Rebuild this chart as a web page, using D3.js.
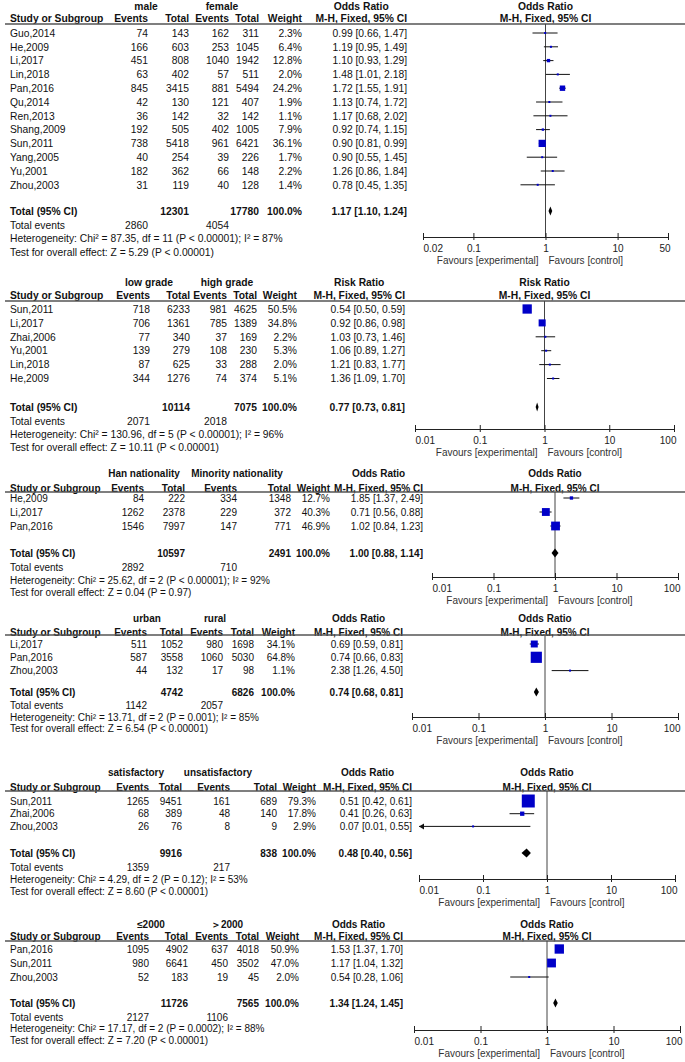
<!DOCTYPE html>
<html><head><meta charset="utf-8">
<script src="https://cdn.jsdelivr.net/npm/d3@7"></script>
<style>body{margin:0;background:#fff}</style>
</head><body>
<svg id="c" width="685" height="1062"></svg>
<script>
// ---------- Panel 1: male vs female ----------
const p1Studies = ["Guo,2014","He,2009","Li,2017","Lin,2018","Pan,2016","Qu,2014","Ren,2013","Shang,2009","Sun,2011","Yang,2005","Yu,2001","Zhou,2003"];
const p1E1 = [74,166,451,63,845,42,36,192,738,40,182,31];
const p1T1 = [143,603,808,402,3415,130,142,505,5418,254,362,119];
const p1E2 = [162,253,1040,57,881,121,32,402,961,39,66,40];
const p1T2 = [311,1045,1942,511,5494,407,142,1005,6421,226,148,128];
const p1W  = [2.3,6.4,12.8,2.0,24.2,1.9,1.1,7.9,36.1,1.7,2.2,1.4];
const p1Est = [0.99,1.19,1.10,1.48,1.72,1.13,1.17,0.92,0.90,0.90,1.26,0.78];
const p1Lo  = [0.66,0.95,0.93,1.01,1.55,0.74,0.68,0.74,0.81,0.55,0.86,0.45];
const p1Hi  = [1.47,1.49,1.29,2.18,1.91,1.72,2.02,1.15,0.99,1.45,1.84,1.35];
const p1Total = {t1:12301, t2:17780, e1:2860, e2:4054, est:1.17, lo:1.10, hi:1.24};
const p1Het = "Heterogeneity: Chi\u00b2 = 87.35, df = 11 (P < 0.00001); I\u00b2 = 87%";
const p1Test = "Test for overall effect: Z = 5.29 (P < 0.00001)";
const p1Ticks = [0.02,0.1,1,10,50];

// ---------- Panel 2: low grade vs high grade ----------
const p2Studies = ["Sun,2011","Li,2017","Zhai,2006","Yu,2001","Lin,2018","He,2009"];
const p2E1 = [718,706,77,139,87,344];
const p2T1 = [6233,1361,340,279,625,1276];
const p2E2 = [981,785,37,108,33,74];
const p2T2 = [4625,1389,169,230,288,374];
const p2W  = [50.5,34.8,2.2,5.3,2.0,5.1];
const p2Est = [0.54,0.92,1.03,1.06,1.21,1.36];
const p2Lo  = [0.50,0.86,0.73,0.89,0.83,1.09];
const p2Hi  = [0.59,0.98,1.46,1.27,1.77,1.70];
const p2Total = {t1:10114, t2:7075, e1:2071, e2:2018, est:0.77, lo:0.73, hi:0.81};
const p2Het = "Heterogeneity: Chi\u00b2 = 130.96, df = 5 (P < 0.00001); I\u00b2 = 96%";
const p2Test = "Test for overall effect: Z = 10.11 (P < 0.00001)";
const p2Ticks = [0.01,0.1,1,10,100];

// ---------- Panel 3: Han vs Minority nationality ----------
const p3Studies = ["He,2009","Li,2017","Pan,2016"];
const p3E1 = [84,1262,1546];
const p3T1 = [222,2378,7997];
const p3E2 = [334,229,147];
const p3T2 = [1348,372,771];
const p3W  = [12.7,40.3,46.9];
const p3Est = [1.85,0.71,1.02];
const p3Lo  = [1.37,0.56,0.84];
const p3Hi  = [2.49,0.88,1.23];
const p3Total = {t1:10597, t2:2491, e1:2892, e2:710, est:1.00, lo:0.88, hi:1.14};
const p3Het = "Heterogeneity: Chi\u00b2 = 25.62, df = 2 (P < 0.00001); I\u00b2 = 92%";
const p3Test = "Test for overall effect: Z = 0.04 (P = 0.97)";
const p3Ticks = [0.01,0.1,1,10,100];

// ---------- Panel 4: urban vs rural ----------
const p4Studies = ["Li,2017","Pan,2016","Zhou,2003"];
const p4E1 = [511,587,44];
const p4T1 = [1052,3558,132];
const p4E2 = [980,1060,17];
const p4T2 = [1698,5030,98];
const p4W  = [34.1,64.8,1.1];
const p4Est = [0.69,0.74,2.38];
const p4Lo  = [0.59,0.66,1.26];
const p4Hi  = [0.81,0.83,4.50];
const p4Total = {t1:4742, t2:6826, e1:1142, e2:2057, est:0.74, lo:0.68, hi:0.81};
const p4Het = "Heterogeneity: Chi\u00b2 = 13.71, df = 2 (P = 0.001); I\u00b2 = 85%";
const p4Test = "Test for overall effect: Z = 6.54 (P < 0.00001)";
const p4Ticks = [0.01,0.1,1,10,100];

// ---------- Panel 5: satisfactory vs unsatisfactory ----------
const p5Studies = ["Sun,2011","Zhai,2006","Zhou,2003"];
const p5E1 = [1265,68,26];
const p5T1 = [9451,389,76];
const p5E2 = [161,48,8];
const p5T2 = [689,140,9];
const p5W  = [79.3,17.8,2.9];
const p5Est = [0.51,0.41,0.07];
const p5Lo  = [0.42,0.26,0.01];
const p5Hi  = [0.61,0.63,0.55];
const p5Total = {t1:9916, t2:838, e1:1359, e2:217, est:0.48, lo:0.40, hi:0.56};
const p5Het = "Heterogeneity: Chi\u00b2 = 4.29, df = 2 (P = 0.12); I\u00b2 = 53%";
const p5Test = "Test for overall effect: Z = 8.60 (P < 0.00001)";
const p5Ticks = [0.01,0.1,1,10,100];

// ---------- Panel 6: <=2000 vs >2000 ----------
const p6Studies = ["Pan,2016","Sun,2011","Zhou,2003"];
const p6E1 = [1095,980,52];
const p6T1 = [4902,6641,183];
const p6E2 = [637,450,19];
const p6T2 = [4018,3502,45];
const p6W  = [50.9,47.0,2.0];
const p6Est = [1.53,1.17,0.54];
const p6Lo  = [1.37,1.04,0.28];
const p6Hi  = [1.70,1.32,1.06];
const p6Total = {t1:11726, t2:7565, e1:2127, e2:1106, est:1.34, lo:1.24, hi:1.45};
const p6Het = "Heterogeneity: Chi\u00b2 = 17.17, df = 2 (P = 0.0002); I\u00b2 = 88%";
const p6Test = "Test for overall effect: Z = 7.20 (P < 0.00001)";
const p6Ticks = [0.01,0.1,1,10,100];

const panels = [
 {groups:["male","female"], measure:"Odds Ratio", studies:p1Studies, e1:p1E1, t1:p1T1, e2:p1E2, t2:p1T2, w:p1W, est:p1Est, lo:p1Lo, hi:p1Hi, total:p1Total, het:p1Het, test:p1Test, ticks:p1Ticks,
  L:{groupY:6, headerY:18, lineY:24, rowY0:33, step:13.8, totalY:211, evY:225, hetY:238, testY:252, axisY:237, cols:[148,189,229,259,302,407], groupX:[146,222], range:[423,668], fs:10.3}},
 {groups:["low grade","high grade"], measure:"Risk Ratio", studies:p2Studies, e1:p2E1, t1:p2T1, e2:p2E2, t2:p2T2, w:p2W, est:p2Est, lo:p2Lo, hi:p2Hi, total:p2Total, het:p2Het, test:p2Test, ticks:p2Ticks,
  L:{groupY:282, headerY:295, lineY:301, rowY0:309, step:13.9, totalY:407, evY:421, hetY:434, testY:447, axisY:429, cols:[150,190,227,257,297,405], groupX:[149,227], range:[415,674], fs:10.3}},
 {groups:["Han nationality","Minority nationality"], measure:"Odds Ratio", studies:p3Studies, e1:p3E1, t1:p3T1, e2:p3E2, t2:p3T2, w:p3W, est:p3Est, lo:p3Lo, hi:p3Hi, total:p3Total, het:p3Het, test:p3Test, ticks:p3Ticks,
  L:{groupY:473, headerY:488, lineY:492, rowY0:498, step:14, totalY:553, evY:567, hetY:580, testY:592, axisY:577, cols:[144,185,237,291,330,423], groupX:[144,237], range:[432,678], fs:10}},
 {groups:["urban","rural"], measure:"Odds Ratio", studies:p4Studies, e1:p4E1, t1:p4T1, e2:p4E2, t2:p4T2, w:p4W, est:p4Est, lo:p4Lo, hi:p4Hi, total:p4Total, het:p4Het, test:p4Test, ticks:p4Ticks,
  L:{groupY:618, headerY:632, lineY:635, rowY0:644, step:13.3, totalY:692, evY:705, hetY:717, testY:728, axisY:717, cols:[147,183,223,254,295,403], groupX:[147,215], range:[412,678], fs:10}},
 {groups:["satisfactory","unsatisfactory"], measure:"Odds Ratio", studies:p5Studies, e1:p5E1, t1:p5T1, e2:p5E2, t2:p5T2, w:p5W, est:p5Est, lo:p5Lo, hi:p5Hi, total:p5Total, het:p5Het, test:p5Test, ticks:p5Ticks,
  L:{groupY:772, headerY:787, lineY:791, rowY0:801, step:12.7, totalY:853, evY:867, hetY:879, testY:891, axisY:879, cols:[149,182,230,277,316,412], groupX:[136,218], range:[419,675], fs:10}},
 {groups:["\u22642000","\uff1e2000"], measure:"Odds Ratio", studies:p6Studies, e1:p6E1, t1:p6T1, e2:p6E2, t2:p6T2, w:p6W, est:p6Est, lo:p6Lo, hi:p6Hi, total:p6Total, het:p6Het, test:p6Test, ticks:p6Ticks,
  L:{groupY:924, headerY:936, lineY:941, rowY0:949, step:14, totalY:1003, evY:1017, hetY:1028, testY:1040, axisY:1030, cols:[149,188,228,259,299,403], groupX:[151,227], range:[414,680], fs:10}}
];

const FONT = "'Liberation Sans', Arial, Helvetica, sans-serif";
const svg = d3.select("#c");
const f2 = d3.format(".2f");
const BLUE = "#0000c8";

function draw(P){
  const L = P.L, c = L.cols;
  const g = svg.append("g").attr("font-family", FONT).attr("font-size", L.fs).attr("fill", "#111");
  const bl = v => v + L.fs*0.36;
  const txt = (s, xx, yy, anchor, bold, size, fill) => {
    const t = g.append("text").attr("x", xx).attr("y", size ? yy + size*0.36 : bl(yy))
      .attr("text-anchor", anchor || "start").text(s);
    if (bold) t.attr("font-weight", "bold");
    if (size) t.attr("font-size", size);
    if (fill) t.attr("fill", fill);
    return t;
  };
  const x = d3.scaleLog().domain([P.ticks[0], P.ticks[P.ticks.length-1]]).range(L.range);
  const x1 = x(1);

  // headers
  txt(P.groups[0], L.groupX[0], L.groupY, "middle", true);
  txt(P.groups[1], L.groupX[1], L.groupY, "middle", true);
  txt("Study or Subgroup", 10, L.headerY, "start", true);
  ["Events","Total","Events","Total","Weight"].forEach((h,i)=>txt(h, c[i], L.headerY, "end", true));
  const mh = txt("M-H, Fixed, 95% CI", c[5], L.headerY, "end", true);
  const mhW = mh.node().getComputedTextLength();
  txt(P.measure, c[5] - mhW/2, L.groupY, "middle", true);
  txt(P.measure, x1, L.groupY, "middle", true);
  txt("M-H, Fixed, 95% CI", x1, L.headerY, "middle", true);

  g.append("line").attr("x1", 5).attr("x2", 685).attr("y1", L.lineY).attr("y2", L.lineY)
    .attr("stroke", "#555").attr("stroke-width", 1.4);

  // study rows
  P.studies.forEach((s,i)=>{
    const y = L.rowY0 + i*L.step;
    txt(s, 10, y);
    txt(P.e1[i], c[0], y, "end");
    txt(P.t1[i], c[1], y, "end");
    txt(P.e2[i], c[2], y, "end");
    txt(P.t2[i], c[3], y, "end");
    txt(P.w[i].toFixed(1) + "%", c[4], y, "end");
    txt(`${f2(P.est[i])} [${f2(P.lo[i])}, ${f2(P.hi[i])}]`, c[5], y, "end");
  });

  // totals
  const T = P.total;
  txt("Total (95% CI)", 10, L.totalY, "start", true);
  txt(T.t1, c[1], L.totalY, "end", true);
  txt(T.t2, c[3], L.totalY, "end", true);
  txt("100.0%", c[4], L.totalY, "end", true);
  txt(`${f2(T.est)} [${f2(T.lo)}, ${f2(T.hi)}]`, c[5], L.totalY, "end", true);
  txt("Total events", 10, L.evY);
  txt(T.e1, c[0], L.evY, "end");
  txt(T.e2, c[2], L.evY, "end");
  txt(P.het, 10, L.hetY);
  txt(P.test, 10, L.testY);

  // plot: reference line
  g.append("line").attr("x1", x1).attr("x2", x1).attr("y1", L.lineY).attr("y2", L.axisY)
    .attr("stroke", "#444").attr("stroke-width", 1);

  const dmin = P.ticks[0];
  P.studies.forEach((s,i)=>{
    const y = L.rowY0 + i*L.step;
    const left = P.lo[i] <= dmin ? L.range[0] : x(P.lo[i]);
    g.append("line").attr("x1", left).attr("x2", x(P.hi[i])).attr("y1", y).attr("y2", y)
      .attr("stroke", "#111").attr("stroke-width", 1);
    if (P.lo[i] <= dmin) {
      g.append("path").attr("d", `M${left},${y} l5,-3 l0,6 z`).attr("fill", "#111");
    }
    const sz = Math.max(2, 0.51*Math.pow(P.w[i], 0.74));
    g.append("rect").attr("x", x(P.est[i]) - sz/2).attr("y", y - sz/2)
      .attr("width", sz).attr("height", sz).attr("fill", BLUE);
  });
  // diamond
  const dy = L.totalY, hh = 4.5;
  g.append("path").attr("d", `M${x(T.lo)},${dy} L${x(T.est)},${dy-hh} L${x(T.hi)},${dy} L${x(T.est)},${dy+hh} Z`)
    .attr("fill", "#000");

  // axis
  const ax = d3.axisBottom(x).tickValues(P.ticks).tickFormat(d => String(d)).tickSizeOuter(0).tickSizeInner(3);
  const ag = g.append("g").attr("transform", `translate(0,${L.axisY})`).call(ax);
  ag.attr("font-family", FONT).attr("font-size", 10);
  ag.select(".domain").attr("stroke", "#222");
  ag.selectAll(".tick line").attr("y1", -4).attr("y2", 3).attr("stroke", "#222");
  ag.selectAll(".tick text").attr("fill", "#222").attr("dy", null).attr("y", 11 + 3.6)
    .each(function(d){
      const w = this.getComputedTextLength();
      const px = x(d);
      let off = 0;
      if (px - w/2 < L.range[0]) off = L.range[0] - (px - w/2);
      if (px + w/2 > L.range[1] + 2) off = (L.range[1] + 2) - (px + w/2);
      d3.select(this).attr("x", off);
    });
  txt("Favours [experimental]", x1 - 7, L.axisY + 23, "end", false, 10, "#333");
  txt("Favours [control]", x1 + 3, L.axisY + 23, "start", false, 10, "#333");
}

panels.forEach(draw);
</script>
</body></html>
